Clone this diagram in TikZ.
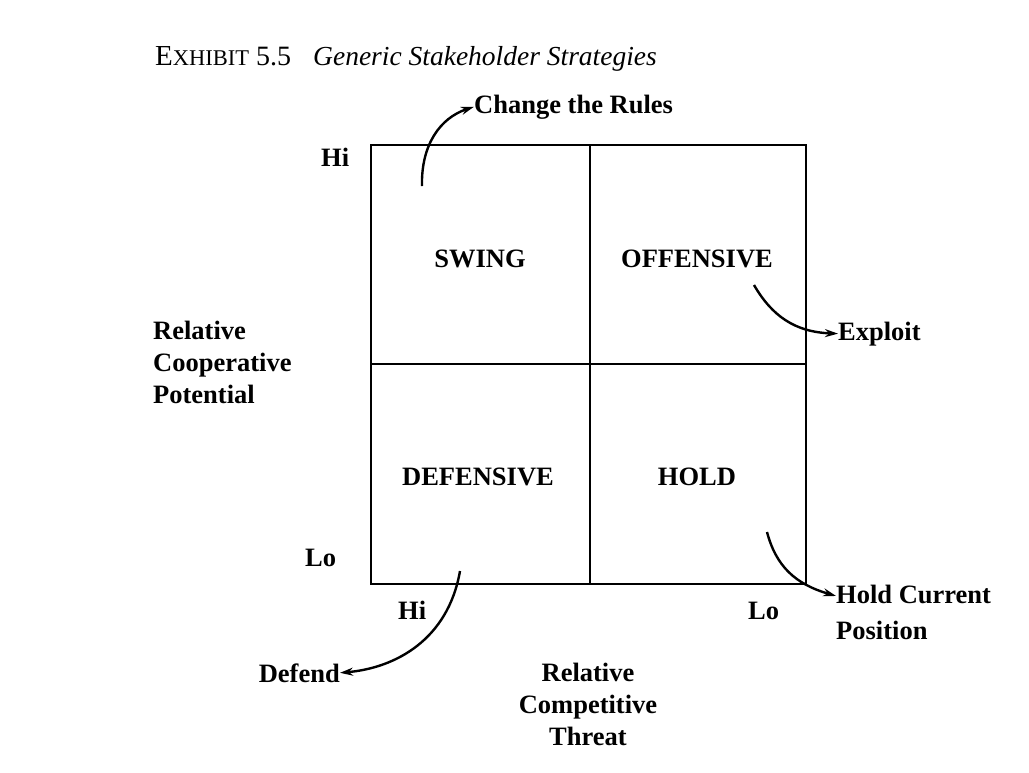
\documentclass[tikz,border=0pt]{standalone}
\usepackage{fontspec}
\setmainfont{Liberation Serif}
\usetikzlibrary{arrows.meta}
\begin{document}
\begin{tikzpicture}[x=1pt,y=-1pt,
  lbl/.style={inner sep=0pt,font=\fontsize{26.5}{31}\selectfont\bfseries},
  arr/.style={line width=2.4pt,-{Stealth[length=13pt,width=8pt]}},
  box/.style={line width=2.4pt}]
\useasboundingbox[fill=white] (0,0) rectangle (1029,772);
% title
\node[inner sep=0pt,anchor=base west] (ex) at (155,65) {\fontsize{29}{34}\selectfont E\fontsize{22.5}{26}\selectfont XHIBIT\fontsize{28}{33}\selectfont\ 5.5};
\node[inner sep=0pt,anchor=base west] (title) at (313,65) {\fontsize{27.5}{32}\selectfont\itshape Generic Stakeholder Strategies};
% grid
\coordinate (tl) at (371,145);
\coordinate (br) at (806,584);
\draw[box] (tl) rectangle (br);
\draw[box] (590,145) -- (590,584);
\draw[box] (371,364) -- (806,364);
% quadrant labels
\node[lbl,anchor=base] (swing) at (480,267) {SWING};
\node[lbl,anchor=base] (off) at (697,267) {OFFENSIVE};
\node[lbl,anchor=base] (def) at (478,485) {DEFENSIVE};
\node[lbl,anchor=base] (hold) at (697,485) {HOLD};
% axis labels
\node[lbl,anchor=base west] (hiy) at (321,166) {Hi};
\node[lbl,anchor=base west] (loy) at (305,566) {Lo};
\node[lbl,anchor=base west] (hix) at (398,619) {Hi};
\node[lbl,anchor=base west] (lox) at (748,619) {Lo};
\node[lbl,anchor=base west] (rel1) at (153,339) {Relative};
\node[lbl,anchor=base west] (rel2) at (153,371) {Cooperative};
\node[lbl,anchor=base west] (rel3) at (153,403) {Potential};
\node[lbl,anchor=base] (ct1) at (588,681) {Relative};
\node[lbl,anchor=base] (ct2) at (588,713) {Competitive};
\node[lbl,anchor=base] (ct3) at (588,745) {Threat};
% strategy labels
\node[lbl,anchor=base west] (rules) at (474,113) {Change the Rules};
\node[lbl,anchor=base west] (exploit) at (838,340) {Exploit};
\node[lbl,anchor=base east] (defend) at (340,682) {Defend};
\node[lbl,anchor=base west] (hc1) at (836,603) {Hold Current};
\node[lbl,anchor=base west] (hc2) at (836,639) {Position};
% arrows
\coordinate (s1) at (422,186);
\coordinate (s2) at (754,285);
\coordinate (s3) at (460,571);
\coordinate (s4) at (767,532);
\draw[arr] (s1) .. controls (421,145) and (440,118) .. (rules.west);
\draw[arr] (s2) .. controls (772,316) and (795,332) .. (exploit.west);
\draw[arr] (s3) .. controls (448,640) and (395,668) .. (defend.east);
\draw[arr] (s4) .. controls (776,566) and (795,584) .. ([yshift=-2pt]hc1.west);
\end{tikzpicture}
\end{document}
